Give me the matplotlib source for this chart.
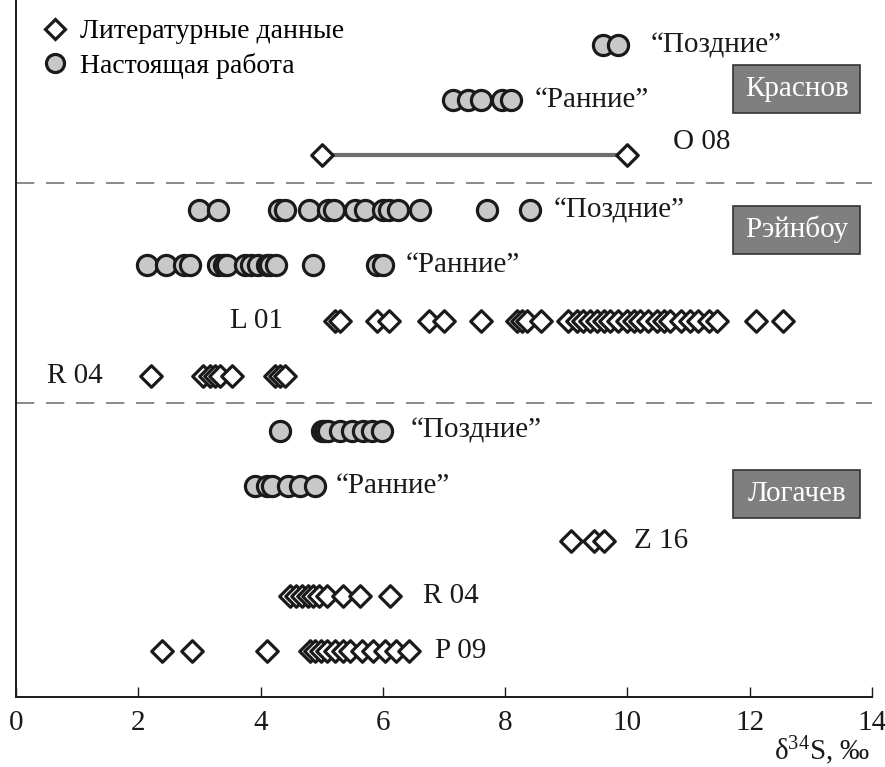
import numpy as np
import matplotlib
matplotlib.use("Agg")
import matplotlib.pyplot as plt
from matplotlib.lines import Line2D
from matplotlib.patches import Rectangle
import matplotlib.transforms as mtransforms

plt.rcParams['font.family'] = ['Liberation Serif', 'DejaVu Serif']
plt.rcParams['mathtext.fontset'] = 'custom'
plt.rcParams['mathtext.rm'] = 'Liberation Serif'
plt.rcParams['mathtext.it'] = 'Liberation Serif:italic'

# delta34S values, permil
krasnov_late = [9.6, 9.85]
krasnov_early = [7.15, 7.4, 7.6, 7.95, 8.1]
o08 = [5.0, 10.0]
rainbow_late = [3.0, 3.3, 4.3, 4.4, 4.8, 5.1, 5.2, 5.55, 5.7, 6.0, 6.1, 6.25, 6.6, 7.7, 8.4]
rainbow_early = [2.15, 2.45, 2.75, 2.85, 3.3, 3.4, 3.45, 3.75, 3.85, 3.95, 4.1, 4.15, 4.25,
                 4.85, 5.9, 6.0]
l01 = [5.22, 5.3, 5.9, 6.1, 6.75, 7.0, 7.6, 8.2, 8.28, 8.36, 8.58, 9.02, 9.18, 9.28, 9.39,
       9.51, 9.61, 9.72, 9.85, 10.0, 10.1, 10.21, 10.34, 10.49, 10.59, 10.7, 10.87, 11.03,
       11.16, 11.33, 11.47, 12.1, 12.55]
r04_rainbow = [2.2, 3.06, 3.18, 3.26, 3.34, 3.54, 4.24, 4.32, 4.4]
log_late = [4.32, 5.0, 5.05, 5.1, 5.3, 5.5, 5.68, 5.83, 5.99]
log_early = [3.91, 4.1, 4.19, 4.45, 4.65, 4.89]
z16 = [9.08, 9.46, 9.62]
r04_log = [4.48, 4.58, 4.68, 4.78, 4.86, 4.96, 5.09, 5.34, 5.63, 6.12]
p09 = [2.39, 2.88, 4.11, 4.81, 4.89, 4.99, 5.09, 5.22, 5.34, 5.47, 5.66, 5.84, 6.04,
       6.22, 6.42]

# (values, row, kind, label, label x, label align, label dy)
rows = [
    (krasnov_late, 12, 'o', '“Поздние”', 10.38, 'left', 0.0),
    (krasnov_early, 11, 'o', '“Ранние”', 8.49, 'left', 0.0),
    (o08, 10, 'D', 'O 08', 10.74, 'left', 0.25),
    (rainbow_late, 9, 'o', '“Поздние”', 8.79, 'left', 0.0),
    (rainbow_early, 8, 'o', '“Ранние”', 6.37, 'left', 0.0),
    (l01, 7, 'D', 'L 01', 4.37, 'right', 0.0),
    (r04_rainbow, 6, 'D', 'R 04', 1.42, 'right', 0.0),
    (log_late, 5, 'o', '“Поздние”', 6.45, 'left', 0.0),
    (log_early, 4, 'o', '“Ранние”', 5.22, 'left', 0.0),
    (z16, 3, 'D', 'Z 16', 10.1, 'left', 0.0),
    (r04_log, 2, 'D', 'R 04', 6.66, 'left', 0.0),
    (p09, 1, 'D', 'P 09', 6.86, 'left', 0.0),
]

deposits = [('Краснов', 11.2), ('Рэйнбоу', 8.65), ('Логачев', 3.85)]
separators = [9.5, 5.5]

fs = 21

fig = plt.figure(figsize=(8.85, 7.67), dpi=100)
ax = fig.add_axes([16 / 885, 70 / 767, 856 / 885, 697 / 767])

circle_style = dict(marker='o', s=210, facecolor='#c8c8c8', edgecolor='#1a1a1a',
                    linewidths=2.3, zorder=3)
diamond_style = dict(marker='D', s=120, facecolor='white', edgecolor='#1a1a1a',
                     linewidths=2.3, zorder=3)

ax.plot(o08, [10, 10], color='#6e6e6e', lw=3, zorder=2)

for vals, y, kind, label, lx, ha, dy in rows:
    style = circle_style if kind == 'o' else diamond_style
    ax.scatter(vals, np.full(len(vals), y), **style)
    ax.text(lx, y + dy, label, fontsize=fs, ha=ha, va='center', color='#1a1a1a')

for y in separators:
    ax.axhline(y, color='#777777', lw=1.2, dashes=(11, 7), zorder=1)

trans = mtransforms.blended_transform_factory(ax.transAxes, ax.transData)
box_x0, box_x1 = (733 - 16) / 856, (860 - 16) / 856
box_h = 0.87
for name, yc in deposits:
    ax.add_patch(Rectangle((box_x0, yc - box_h / 2), box_x1 - box_x0, box_h,
                           transform=trans, facecolor='#7f7f80', edgecolor='#333333',
                           lw=1.2, zorder=4))
    ax.text((box_x0 + box_x1) / 2, yc, name, transform=trans, fontsize=fs,
            color='white', ha='center', va='center', zorder=5)

handles = [
    Line2D([], [], marker='D', ls='none', markersize=10, markerfacecolor='white',
           markeredgecolor='#1a1a1a', markeredgewidth=2.3),
    Line2D([], [], marker='o', ls='none', markersize=13, markerfacecolor='#c8c8c8',
           markeredgecolor='#1a1a1a', markeredgewidth=2.3),
]
ax.legend(handles, ['Литературные данные', 'Настоящая работа'], loc='upper left',
          bbox_to_anchor=(24 / 856, 1 - 12 / 697), frameon=False, fontsize=20,
          handlelength=0.6, handletextpad=0.6, labelspacing=0.3, borderaxespad=0.0,
          borderpad=0.25)

ax.set_xlim(0, 14)
ax.set_ylim(0.164, 12.82)
ax.set_xticks(range(0, 15, 2))
ax.set_yticks([])
ax.tick_params(axis='x', direction='in', length=7, width=1, labelsize=fs, pad=9,
               colors='#1a1a1a')
for side in ('top', 'right'):
    ax.spines[side].set_visible(False)
for side in ('left', 'bottom'):
    ax.spines[side].set_linewidth(1.4)
    ax.spines[side].set_color('#1a1a1a')

fig.text(870 / 885, 1 - 751 / 767, 'δ$^{34}$S, $\\it{‰}$', fontsize=fs, ha='right',
         va='center', color='#1a1a1a')

fig.savefig('out.png', dpi=100)
